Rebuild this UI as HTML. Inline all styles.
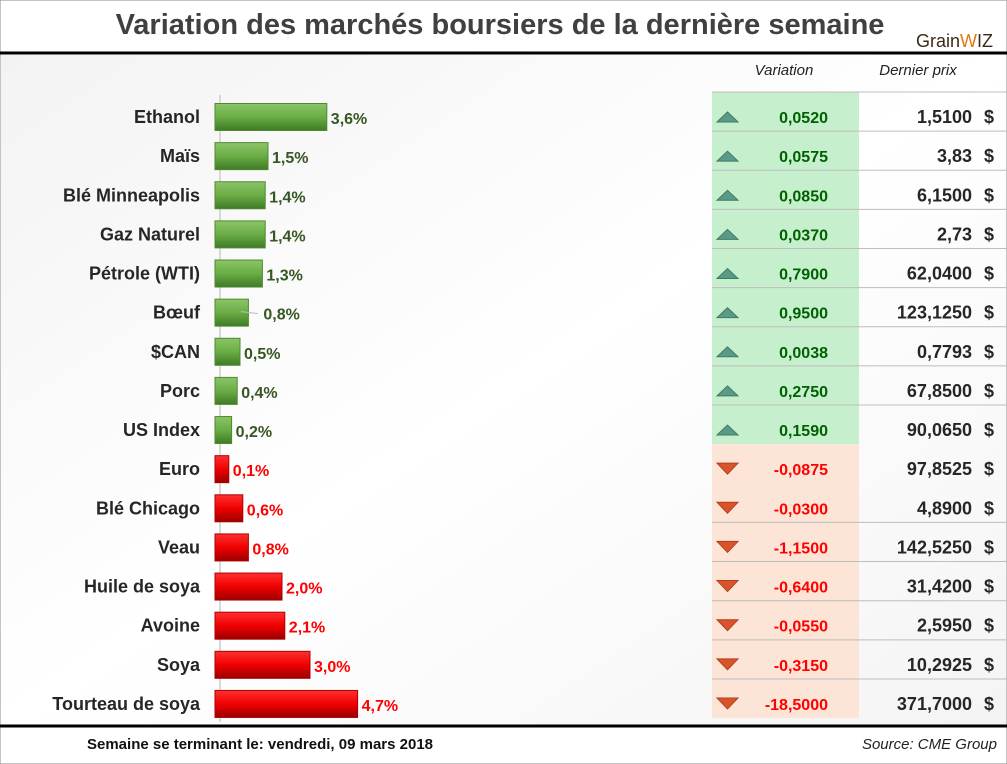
<!DOCTYPE html>
<html><head><meta charset="utf-8">
<style>
html,body{margin:0;padding:0;background:#fff;}
svg{display:block;font-family:"Liberation Sans",sans-serif;}
</style></head>
<body>
<svg id="chart" width="1007" height="764" viewBox="0 0 1007 764" xmlns="http://www.w3.org/2000/svg">
<defs>
<linearGradient id="bg" x1="0" y1="0" x2="1" y2="1">
<stop offset="0" stop-color="#f3f3f3"/><stop offset="0.5" stop-color="#ffffff"/><stop offset="1" stop-color="#f4f4f4"/>
</linearGradient>
<linearGradient id="gG" x1="0" y1="0" x2="0" y2="1">
<stop offset="0" stop-color="#8cc468"/><stop offset="0.5" stop-color="#6aad45"/><stop offset="1" stop-color="#3f7a26"/>
</linearGradient>
<linearGradient id="gR" x1="0" y1="0" x2="0" y2="1">
<stop offset="0" stop-color="#ff3030"/><stop offset="0.5" stop-color="#f00000"/><stop offset="1" stop-color="#9a0000"/>
</linearGradient>
</defs>
<rect x="0" y="0" width="1007" height="764" fill="#fff" stroke="#888"/>
<rect x="1" y="55" width="1005" height="670" fill="url(#bg)"/>
<text x="500" y="34" text-anchor="middle" font-size="29" font-weight="bold" fill="#404040">Variation des marchés boursiers de la dernière semaine</text>
<g>
<text x="916" y="47" font-size="18" fill="#3a2a1a">Grain<tspan fill="#e07a10">W</tspan>IZ</text>
</g>
<line x1="0" y1="53" x2="1007" y2="53" stroke="#000" stroke-width="3"/>
<line x1="0" y1="726" x2="1007" y2="726" stroke="#000" stroke-width="3"/>
<text x="784" y="75" text-anchor="middle" font-size="15" font-style="italic" fill="#222">Variation</text>
<text x="918" y="75" text-anchor="middle" font-size="15" font-style="italic" fill="#222">Dernier prix</text>
<line x1="220" y1="95" x2="220" y2="722" stroke="#d8d8d8" stroke-width="2"/>
<g id="bars"></g>
<g id="table"></g>
<text x="87" y="749" font-size="15" font-weight="bold" fill="#111">Semaine se terminant le:  vendredi, 09 mars 2018</text>
<text x="997" y="749" text-anchor="end" font-size="15" font-style="italic" fill="#222">Source: CME Group</text>
</svg>
<script>
const categories=["Ethanol","Maïs","Blé Minneapolis","Gaz Naturel","Pétrole (WTI)","Bœuf","$CAN","Porc","US Index","Euro","Blé Chicago","Veau","Huile de soya","Avoine","Soya","Tourteau de soya"];
const pctValues=[3.6,1.5,1.4,1.4,1.3,0.8,0.5,0.4,0.2,-0.1,-0.6,-0.8,-2.0,-2.1,-3.0,-4.7];
const variations=["0,0520","0,0575","0,0850","0,0370","0,7900","0,9500","0,0038","0,2750","0,1590","-0,0875","-0,0300","-1,1500","-0,6400","-0,0550","-0,3150","-18,5000"];
const prices=["1,5100","3,83","6,1500","2,73","62,0400","123,1250","0,7793","67,8500","90,0650","97,8525","4,8900","142,5250","31,4200","2,5950","10,2925","371,7000"];

const NS="http://www.w3.org/2000/svg";
const bars=document.getElementById('bars'), table=document.getElementById('table');
const rowY=i=>117+i*39.13;
const barW=v=>11+28*Math.abs(v);
function mk(tag,attrs,parent,txt){const e=document.createElementNS(NS,tag);for(const k in attrs)e.setAttribute(k,attrs[k]);if(txt!==undefined)e.textContent=txt;parent.appendChild(e);return e;}
const rowH=39.13, top0=92;
categories.forEach((c,i)=>{
  const y=rowY(i), v=pctValues[i], pos=v>=0;
  const lbl=mk('text',{x:200,y:y+6,'text-anchor':'end','font-size':18,'font-weight':'bold',fill:'#262626'},bars,c);
  
  
  const w=barW(v);
  const r=mk('rect',{x:215,y:y-13.5,width:w,height:27,fill:pos?'url(#gG)':'url(#gR)',stroke:pos?'#4e8a30':'#b00000','stroke-width':1},bars);
  
  
  const offset=(i===5)?15:4;
  if(i===5){
    const ld=mk('line',{x1:241,y1:y-1,x2:258,y2:y+1,stroke:'#bbb','stroke-width':1},bars);
    
    
  }
  const vt=mk('text',{x:215+w+offset,y:y+7,'font-size':16,'font-weight':'bold',fill:pos?'#375623':'#ff0000'},bars,Math.abs(v).toFixed(1).replace('.',',')+'%');
  
  
  const ty=top0+i*rowH;
  const bgc=mk('rect',{x:712,y:ty,width:147,height:rowH,fill:pos?'#c6efce':'#fce4d6'},table);
  
  
  const ic=pos?mk('polygon',{points:`${717},${y+5} ${738},${y+5} ${727.5},${y-5}`,fill:'#5b9a86',stroke:'#3e7a68'},table)
             :mk('polygon',{points:`${717},${y-6} ${738},${y-6} ${727.5},${y+5}`,fill:'#d9542b',stroke:'#b0401c'},table);
  
  
  const vv=mk('text',{x:828,y:y+6,'text-anchor':'end','font-size':16,'font-weight':'bold',fill:pos?'#006100':'#ff0000'},table,variations[i]);
  
  
  const pv=mk('text',{x:972,y:y+6,'text-anchor':'end','font-size':18,'font-weight':'bold',fill:'#262626'},table,prices[i]);
  
  
  const ds=mk('text',{x:984,y:y+6,'font-size':18,'font-weight':'bold',fill:'#262626'},table,'$');
  
  
  if(i>0 && !(i===9||i===10) || i===11){
    const ln=mk('line',{x1:712,y1:ty,x2:1007,y2:ty,stroke:'#bdbdbd','stroke-width':1},table);
    
    
  }
});
const l0=mk('line',{x1:712,y1:top0,x2:1007,y2:top0,stroke:'#bdbdbd','stroke-width':1},table);


</script>
</body></html>
